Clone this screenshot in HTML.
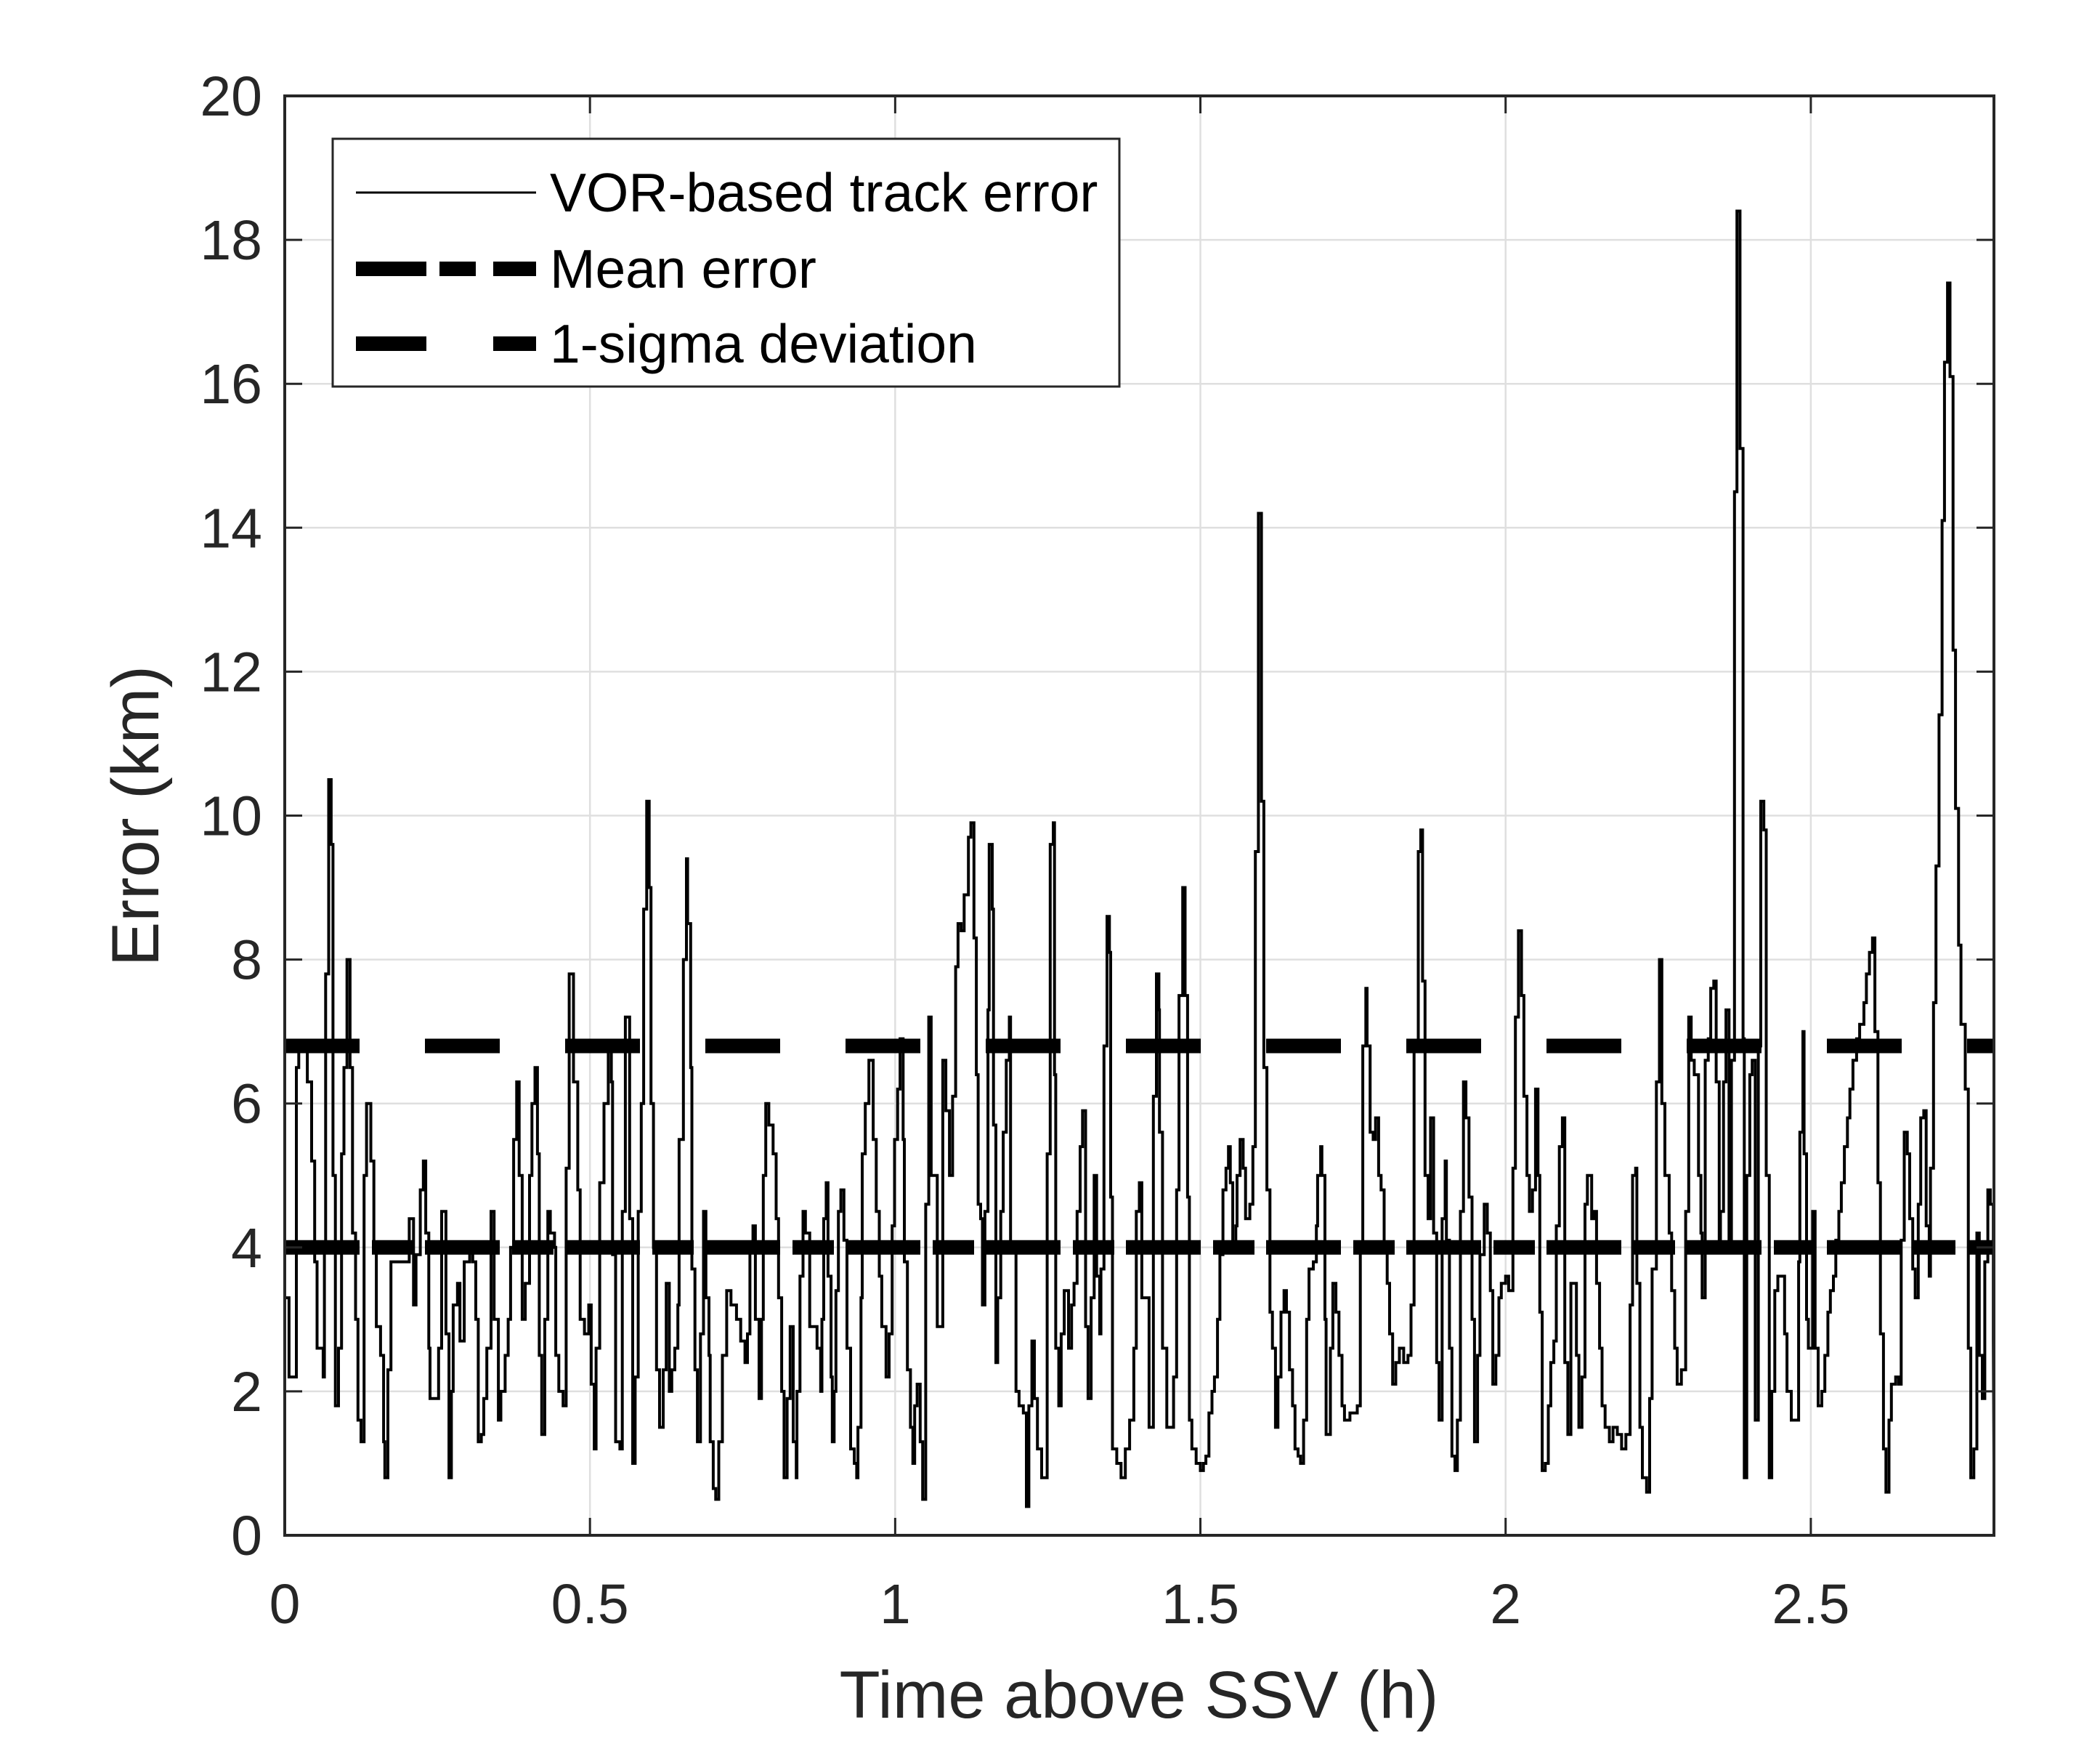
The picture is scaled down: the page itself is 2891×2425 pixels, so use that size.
<!DOCTYPE html>
<html><head><meta charset="utf-8"><style>
html,body{margin:0;padding:0;background:#fff;}
svg{display:block;font-family:"Liberation Sans",Arial,sans-serif;}
</style></head><body>
<svg id="chart" width="2891" height="2425" viewBox="0 0 2891 2425" xmlns="http://www.w3.org/2000/svg">
<defs><clipPath id="plotclip"><rect x="392" y="132" width="2353" height="1981"/></clipPath></defs>
<rect x="0" y="0" width="2891" height="2425" fill="#fff"/>
<g id="grid"></g>
<g id="series" clip-path="url(#plotclip)"></g>
<g id="axes"></g>
<g id="legend">
  <rect x="458" y="191" width="1083" height="341" fill="#fff" stroke="#262626" stroke-width="3"/>
  <g>
    <line x1="490" y1="265" x2="738" y2="265" stroke="#000" stroke-width="3"/>
    <text x="757" y="291" font-size="75" fill="#000">VOR-based track error</text>
  </g>
  <g>
    <line x1="490" y1="370" x2="587" y2="370" stroke="#000" stroke-width="20"/>
    <line x1="605" y1="370" x2="655" y2="370" stroke="#000" stroke-width="20"/>
    <line x1="679" y1="370" x2="738" y2="370" stroke="#000" stroke-width="20"/>
    <text x="757" y="396" font-size="75" fill="#000">Mean error</text>
  </g>
  <g>
    <line x1="490" y1="473" x2="587" y2="473" stroke="#000" stroke-width="20"/>
    <line x1="679" y1="473" x2="738" y2="473" stroke="#000" stroke-width="20"/>
    <text x="757" y="499" font-size="75" fill="#000">1-sigma deviation</text>
  </g>
</g>
<text x="1568" y="2364" font-size="92" fill="#262626" text-anchor="middle">Time above SSV (h)</text>
<text x="0" y="0" font-size="92" fill="#262626" text-anchor="middle" transform="translate(218,1123) rotate(-90)">Error (km)</text>
</svg>
<script>
const xTicks = [0, 0.5, 1, 1.5, 2, 2.5];
const xTickLabels = ["0", "0.5", "1", "1.5", "2", "2.5"];
const yTicks = [0, 2, 4, 6, 8, 10, 12, 14, 16, 18, 20];
const yTickLabels = ["0", "2", "4", "6", "8", "10", "12", "14", "16", "18", "20"];
const meanError = 4.0;
const sigmaLevel = 6.8;
const times = [
0,.007,.019,.023,.037,.044,.049,.053,.063,.065,.067,.072,.076,.079,.083,.088,.093,.097,.102,.107,.111,.116,.120,.125,.130,.134,.141,.146,.150,.157,.162,.164,.169,.174,.204,.211,.215,.222,.227,.231,.236,.238,.248,.252,.257,.264,.269,.273,.276,.283,.287,.294,.303,.308,.313,.317,.322,.326,.331,.338,.343,.350,.354,.361,.366,.370,.375,.380,.384,.389,.394,.401,.405,.410,.414,.417,.421,.426,.431,.435,.442,.444,.449,.456,.461,.466,.473,.480,.484,.491,.498,.502,.507,.510,
.516,.523,.530,.535,.537,.542,.549,.553,.558,.565,.570,.574,.579,.584,.588,.593,.597,.600,.604,.609,.614,.620,.625,.630,.634,.639,.644,.646,.653,.658,.660,.665,.667,.672,.676,.681,.686,.690,.695,.697,.702,.706,.711,
.717,.724,.731,.740,.747,.754,.758,.762,.767,.771,.777,.781,.784,.788,.793,.800,.805,.809,.814,.818,.823,.828,.833,.838,.839,.844,.849,.853,.860,.872,.878,.880,.883,.887,.890,.895,.897,.900,.903,.907,.911,.916,.921,.927,.933,.937,.939,.944,.946,.951,.957,.964,.969,.974,.978,.985,.990,.995,.999,
1.004,1.008,1.013,1.015,1.020,1.025,1.029,1.032,1.036,1.041,1.045,1.050,1.055,1.059,1.069,1.078,1.083,1.089,1.094,1.099,1.103,1.108,1.113,1.120,1.124,1.129,1.133,1.136,1.140,1.143,1.147,1.152,1.154,1.159,1.161,1.165,1.168,1.173,1.177,1.182,1.187,1.189,1.198,1.203,1.210,1.215,1.219,1.224,1.228,1.233,1.240,1.245,1.249,1.254,1.259,1.261,1.263,1.268,1.272,1.277,1.284,1.289,1.293,1.298,1.303,1.307,1.312,1.316,1.321,1.326,1.330,1.335,1.337,1.342,1.347,1.351,1.353,1.356,1.363,1.370,1.377,1.384,1.391,1.395,1.400,1.404,1.416,1.423,1.428,1.432,
1.433,1.438,1.445,1.449,1.456,1.461,1.465,1.471,1.475,1.479,1.482,1.486,1.493,1.500,1.505,1.509,1.514,1.519,1.523,1.528,1.532,1.537,1.542,1.546,1.549,1.553,1.558,1.560,1.565,1.570,1.574,1.581,1.586,1.590,1.595,1.600,1.604,1.609,1.614,1.618,1.623,1.627,1.632,1.637,1.641,1.646,1.651,1.655,1.660,1.664,1.669,1.674,1.678,1.685,1.690,1.692,1.697,1.699,1.704,1.706,1.713,1.717,1.722,1.727,1.732,1.736,1.745,1.752,1.757,1.762,1.766,1.771,1.773,1.778,1.783,1.787,1.792,1.796,1.801,1.806,1.810,1.815,1.820,1.826,1.833,1.840,1.845,1.850,1.857,1.861,1.864,1.868,1.873,1.877,1.882,1.887,1.891,1.896,1.901,1.903,1.908,1.912,1.917,1.921,1.926,1.931,1.935,1.940,1.945,1.949,1.954,1.958,1.965,1.970,1.975,1.979,1.984,1.989,1.993,2.000,2.005,2.012,2.016,2.021,2.026,2.030,2.035,2.039,2.044,2.049,2.053,2.056,2.060,2.065,2.070,2.074,2.079,2.083,2.088,2.093,2.097,2.102,2.107,2.116,2.120,2.125,2.130,2.134,2.141,
2.145,2.149,2.154,2.158,2.163,2.170,2.176,2.183,2.190,2.197,2.204,2.208,2.213,2.215,2.220,2.224,2.231,2.236,2.240,2.247,2.252,2.256,2.261,2.268,2.272,2.277,2.281,2.288,2.295,2.300,2.304,2.309,2.316,2.320,2.322,2.327,2.332,2.336,2.341,2.345,2.350,2.352,2.357,2.361,2.366,2.370,2.375,2.379,2.384,2.389,2.391,2.395,2.400,2.404,2.409,2.414,2.418,2.423,2.427,2.432,2.436,2.441,2.446,2.452,2.457,2.461,2.468,2.475,2.480,2.482,2.487,2.489,2.493,2.496,2.503,2.507,2.512,2.518,2.523,2.528,2.532,2.537,2.541,2.546,2.550,2.555,2.560,2.564,2.569,2.575,2.580,2.587,2.591,2.596,2.601,2.605,2.610,2.614,2.619,2.623,2.628,2.632,2.639,2.644,2.648,2.653,2.658,2.662,2.667,2.671,2.676,2.680,2.685,2.689,2.694,2.696,2.701,2.705,2.710,2.715,2.719,2.724,2.728,2.733,2.737,2.742,2.746,2.753,2.758,2.762,2.767,2.772,2.776,2.781,2.785,2.790,2.794,2.799];
const errors = [
3.3,2.2,6.5,6.8,6.3,5.2,3.8,2.6,2.2,4.0,7.8,10.5,9.6,5.0,1.8,2.6,5.3,6.5,8.0,6.5,4.2,3.0,1.6,1.3,5.0,6.0,5.2,4.0,2.9,2.5,1.3,0.8,2.3,3.8,4.4,3.2,3.9,4.8,5.2,4.2,2.6,1.9,1.9,2.6,4.5,2.8,0.8,2.0,3.2,3.5,2.7,3.8,4.0,3.8,3.0,1.3,1.4,1.9,2.6,4.5,3.0,1.6,2.0,2.5,3.0,4.0,5.5,6.3,5.0,3.0,3.5,5.0,6.0,6.5,5.3,2.5,1.4,3.0,4.5,4.2,4.0,2.5,2.0,1.8,5.1,7.8,6.3,4.8,3.0,2.8,3.2,2.1,1.2,2.6,
4.9,6.0,6.8,6.3,3.9,1.3,1.2,4.5,7.2,4.4,1.0,2.2,4.5,6.0,8.7,10.2,9.0,6.0,4.0,2.3,1.5,2.3,3.5,2.0,2.3,2.6,3.2,5.5,8.0,9.4,8.5,6.5,3.7,2.3,1.3,2.8,4.5,3.3,2.5,1.3,0.65,0.5,1.3,
2.5,3.4,3.2,3.0,2.7,2.4,2.8,4.0,4.3,3.0,1.9,3.0,5.0,6.0,5.7,5.3,4.4,3.3,2.0,0.8,1.9,2.9,1.3,0.8,2.0,3.6,4.5,4.2,2.9,2.6,2.0,3.0,4.4,4.9,3.6,2.2,1.3,2.0,3.4,4.5,4.8,4.1,2.6,1.2,1.0,0.8,1.5,3.3,5.3,6.0,6.6,5.5,4.5,3.6,2.9,2.2,2.8,4.3,5.5,
6.2,6.9,5.5,3.8,2.3,1.5,1.0,1.8,2.1,1.3,0.5,4.6,7.2,5.0,2.9,6.6,5.9,5.0,6.1,7.9,8.5,8.4,8.9,9.7,9.9,8.3,6.4,4.6,4.4,3.2,4.5,7.3,9.6,8.7,5.7,2.4,3.3,4.5,5.6,6.6,7.2,4.0,2.0,1.8,1.7,0.4,1.8,2.7,1.9,1.2,0.8,0.8,5.3,9.6,9.9,6.4,2.6,1.8,2.8,3.4,2.6,3.2,3.5,4.5,5.4,5.9,2.9,1.9,3.3,5.0,3.6,2.8,3.7,6.8,8.6,8.1,4.7,1.2,1.0,0.8,1.2,1.6,2.6,4.5,4.9,3.3,1.5,6.1,7.8,7.3,
5.6,2.6,1.5,1.5,2.2,4.8,7.5,9.0,7.5,4.7,1.6,1.2,1.0,0.9,1.0,1.1,1.7,2.0,2.2,3.0,3.9,4.8,5.1,5.4,4.9,4.0,4.3,5.0,5.5,5.1,4.4,4.6,5.4,9.5,14.2,10.2,6.5,4.8,3.1,2.6,1.5,2.2,3.1,3.4,3.1,2.3,1.8,1.2,1.1,1.0,1.6,3.0,3.7,3.8,4.3,5.0,5.4,5.0,3.0,1.4,2.6,3.5,3.1,2.5,1.8,1.6,1.7,1.7,1.8,4.0,6.8,7.6,6.8,5.6,5.5,5.8,5.0,4.8,4.0,3.5,2.8,2.1,2.4,2.6,2.4,2.5,3.2,6.8,9.5,9.8,7.7,5.0,4.4,5.8,4.2,2.4,1.6,4.4,5.2,4.1,2.6,1.1,0.9,1.6,4.5,6.3,5.8,4.7,3.0,1.3,2.5,3.9,4.6,4.2,3.4,2.1,2.5,3.3,3.5,3.6,3.4,5.1,7.2,8.4,7.5,6.1,5.0,4.5,4.8,6.2,5.0,3.1,0.9,1.0,1.8,2.4,2.7,4.3,5.4,5.8,2.4,1.4,3.5,2.5,1.5,2.2,4.6,5.0,4.4,
4.5,3.5,2.6,1.8,1.5,1.3,1.5,1.4,1.2,1.4,3.2,5.0,5.1,3.5,1.5,0.8,0.6,1.9,3.7,6.3,8.0,6.0,5.0,4.2,3.4,2.6,2.1,2.3,4.5,7.2,6.6,6.4,5.0,4.2,3.3,6.6,6.9,7.6,7.7,6.3,4.0,4.5,6.3,7.3,4.0,6.6,14.5,18.4,15.1,6.9,0.8,5.0,6.4,6.6,1.6,6.8,10.2,9.8,5.0,0.8,2.0,3.4,3.6,3.6,2.8,2.0,1.6,1.6,3.8,5.6,7.0,5.3,3.0,2.6,4.5,2.6,1.8,2.0,2.5,3.1,3.4,3.6,4.1,4.5,4.9,5.4,5.8,6.2,6.6,6.9,7.1,7.4,7.8,8.1,8.3,7.0,4.9,2.8,1.2,0.6,1.6,2.1,2.2,2.1,4.1,5.6,5.3,4.4,3.7,3.3,4.6,5.8,5.9,4.3,3.6,5.1,7.4,9.3,11.4,14.1,16.3,17.4,16.1,12.3,10.1,8.2,7.1,6.2,2.6,0.8,1.2,4.2,2.5,1.9,3.8,4.8,4.6,2.7,1.0];

const X0 = 392, X1 = 2745, Y0 = 2113, Y1 = 132;
const XMAX = 2.8, YMAX = 20;
const xs = t => X0 + (t / XMAX) * (X1 - X0);
const ys = v => Y0 - (v / YMAX) * (Y0 - Y1);
const NS = "http://www.w3.org/2000/svg";
function mk(tag, attrs, parent) {
  const e = document.createElementNS(NS, tag);
  for (const k in attrs) e.setAttribute(k, attrs[k]);
  parent.appendChild(e);
  return e;
}
const grid = document.getElementById('grid');
const axes = document.getElementById('axes');
const series = document.getElementById('series');

xTicks.forEach((t, i) => {
  const gl = mk('line', {x1: xs(t), x2: xs(t), y1: Y1, y2: Y0, stroke: '#dfdfdf', 'stroke-width': 2.5}, grid);
  
  
  const tk1 = mk('line', {x1: xs(t), x2: xs(t), y1: Y0, y2: Y0 - 24, stroke: '#262626', 'stroke-width': 3}, axes);
  
  
  const tk2 = mk('line', {x1: xs(t), x2: xs(t), y1: Y1, y2: Y1 + 24, stroke: '#262626', 'stroke-width': 3}, axes);
  
  
  const lb = mk('text', {x: xs(t), y: 2234, 'font-size': 77, fill: '#262626', 'text-anchor': 'middle'}, axes);
  lb.textContent = xTickLabels[i];
  
  
});
yTicks.forEach((v, i) => {
  const gl = mk('line', {x1: X0, x2: X1, y1: ys(v), y2: ys(v), stroke: '#dfdfdf', 'stroke-width': 2.5}, grid);
  
  
  const tk1 = mk('line', {x1: X0, x2: X0 + 24, y1: ys(v), y2: ys(v), stroke: '#262626', 'stroke-width': 3}, axes);
  
  
  const tk2 = mk('line', {x1: X1, x2: X1 - 24, y1: ys(v), y2: ys(v), stroke: '#262626', 'stroke-width': 3}, axes);
  
  
  const lb = mk('text', {x: 361, y: ys(v) + 27, 'font-size': 77, fill: '#262626', 'text-anchor': 'end'}, axes);
  lb.textContent = yTickLabels[i];
  
  
});
const frame = mk('rect', {x: X0, y: Y1, width: X1 - X0, height: Y0 - Y1, fill: 'none', stroke: '#262626', 'stroke-width': 4}, axes);



let d = '';
for (let i = 0; i < times.length; i++) {
  const x = xs(times[i]).toFixed(1), y = ys(errors[i]).toFixed(1);
  d += (i === 0 ? 'M' : 'L') + x + ',' + (i === 0 ? y : ys(errors[i-1]).toFixed(1)) + (i === 0 ? '' : 'L' + x + ',' + y);
}
d += 'L' + xs(XMAX).toFixed(1) + ',' + ys(errors[errors.length-1]).toFixed(1);
const track = mk('path', {d: d, fill: 'none', stroke: '#000', 'stroke-width': 4, 'stroke-linejoin': 'miter'}, series);



const meanLine = mk('line', {x1: X0, x2: X1, y1: ys(meanError), y2: ys(meanError), stroke: '#000', 'stroke-width': 20, 'stroke-dasharray': '103 17 57 16'}, series);


const sigmaLine = mk('line', {x1: X0, x2: X1, y1: ys(sigmaLevel), y2: ys(sigmaLevel), stroke: '#000', 'stroke-width': 20, 'stroke-dasharray': '103 90'}, series);


</script>
</body></html>
